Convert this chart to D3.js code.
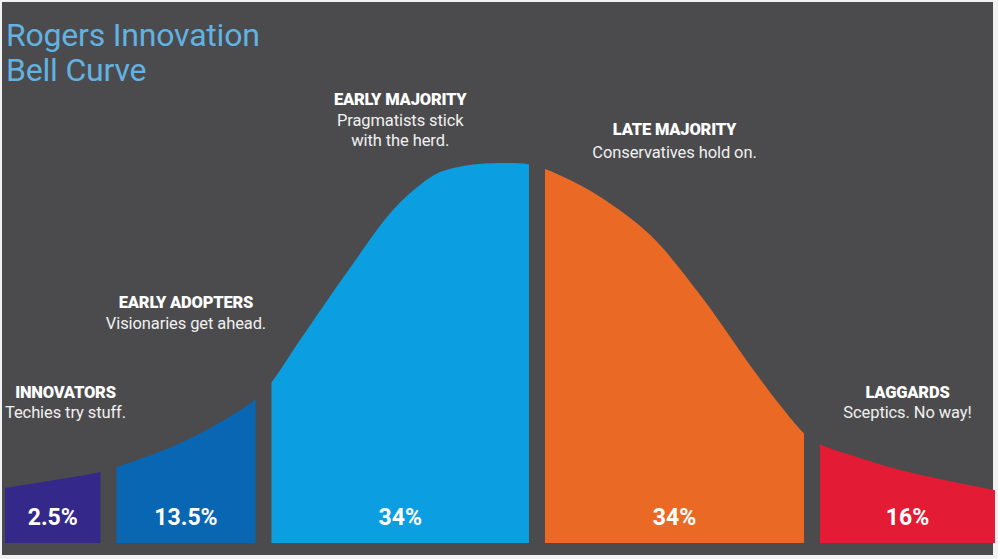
<!DOCTYPE html>
<html>
<head>
<meta charset="utf-8">
<script src="https://cdn.jsdelivr.net/npm/d3@7"></script>
<style>
  html, body { margin: 0; padding: 0; background: #f2f2f2; }
  svg { display: block; }
</style>
</head>
<body>
<svg id="chart" width="998" height="559"></svg>
<script>
// ---------------- DATA ----------------
const titleLines = ["Rogers Innovation", "Bell Curve"];

// Adopter categories
const categories = ["Innovators", "Early Adopters", "Early Majority", "Late Majority", "Laggards"];
const headings = ["INNOVATORS", "EARLY ADOPTERS", "EARLY MAJORITY", "LATE MAJORITY", "LAGGARDS"];
const descriptions = [
  ["Techies try stuff."],
  ["Visionaries get ahead."],
  ["Pragmatists stick", "with the herd."],
  ["Conservatives hold on."],
  ["Sceptics. No way!"]
];
const shares = [2.5, 13.5, 34, 34, 16];           // percent of adopters
const shareLabels = ["2.5%", "13.5%", "34%", "34%", "16%"];

// Category boundaries along the curve (standard-deviation units)
const boundaries = [-2.66, -2.1425, -1.3675, 0, 1.375, 2.29];

// Bell curve outline: position (sd units), relative height (peak = 100)
const curveX = [-2.66, -2.185, -2.10, -1.75, -1.405, -1.33, -1.185, -0.935, -0.72, -0.585, -0.485, -0.335, -0.185, -0.045,
                0.04, 0.165, 0.315, 0.565, 0.815, 1.065, 1.215, 1.335, 1.41, 1.565, 1.815, 2.29];
const curveY = [14.5, 18.7, 20.0, 27.1, 37.9, 42.1, 53.4, 72.4, 87.6, 94.2, 97.6, 99.5, 100, 99.7,
                98.4, 95.5, 91.1, 81.1, 65.3, 46.8, 36.3, 28.9, 26.1, 23.2, 19.2, 13.9];

// ---------------- STYLE / LAYOUT ----------------
const colors = ["#35288b", "#0966b3", "#0b9fe1", "#ea6a25", "#e31b35"];
const W = 998, H = 559;
const bg = { x: 2, y: 2, w: 991, h: 553, fill: "#4b4b4d" };
const plot = { left: 5, right: 995, base: 543, top: 163 };
const gapHalf = 8;
// label baselines (heading, first description line)
const labelY = [[398, 418], [308, 329], [105, 126], [135, 158], [398, 418]];
const descLineH = 20;
const pctY = 525;
const font = "Roboto, 'Open Sans', sans-serif";

const svg = d3.select("#chart");

svg.append("rect")
  .attr("x", bg.x).attr("y", bg.y)
  .attr("width", bg.w).attr("height", bg.h)
  .attr("fill", bg.fill);

const x = d3.scaleLinear().domain([boundaries[0], boundaries[boundaries.length - 1]])
  .range([plot.left, plot.right]);
const y = d3.scaleLinear().domain([0, 100]).range([plot.base, plot.top]);

const pts = curveX.map((v, i) => [v, curveY[i]]);
const area = d3.area()
  .x(d => x(d[0]))
  .y0(plot.base)
  .y1(d => y(d[1]))
  .curve(d3.curveCatmullRom.alpha(0.5));

const defs = svg.append("defs");

categories.forEach((c, i) => {
  const x0 = x(boundaries[i]) + (i === 0 ? 0 : gapHalf);
  const x1 = x(boundaries[i + 1]) - (i === categories.length - 1 ? 0 : gapHalf);
  const id = "clip" + i;
  defs.append("clipPath").attr("id", id)
    .append("rect")
    .attr("x", x0).attr("y", 0)
    .attr("width", x1 - x0).attr("height", H);

  svg.append("path")
    .datum(pts)
    .attr("d", area)
    .attr("fill", colors[i])
    .attr("clip-path", `url(#${id})`);

  const cx = (x0 + x1) / 2;

  // percentage
  svg.append("text")
    .attr("x", cx).attr("y", pctY)
    .attr("text-anchor", "middle")
    .attr("font-family", font)
    .attr("font-weight", 700)
    .attr("font-size", 23)
    .attr("fill", "#ffffff")
    .text(shareLabels[i]);

  // heading + description group
  const g = svg.append("g");
  g.append("text")
    .attr("x", cx).attr("y", labelY[i][0])
    .attr("text-anchor", "middle")
    .attr("font-family", font)
    .attr("font-weight", 900)
    .attr("font-size", 16.5)
    .attr("letter-spacing", -0.2)
    .attr("fill", "#ffffff")
    .text(headings[i]);
  descriptions[i].forEach((line, k) => {
    g.append("text")
      .attr("x", cx).attr("y", labelY[i][1] + k * descLineH)
      .attr("text-anchor", "middle")
      .attr("font-family", font)
      .attr("font-size", 16.5)
      .attr("letter-spacing", -0.1)
      .attr("fill", "#f0f0f0")
      .text(line);
  });
  // keep labels inside the frame
  const bb = g.node().getBBox();
  if (bb.x < plot.left) g.attr("transform", `translate(${plot.left - bb.x},0)`);
});

// title
const title = svg.append("text")
  .attr("x", 6).attr("y", 46)
  .attr("font-family", font)
  .attr("font-size", 32)
  .attr("letter-spacing", -0.2)
  .attr("fill", "#62b2e2");
titleLines.forEach((t, i) => {
  title.append("tspan").attr("x", 6).attr("dy", i === 0 ? 0 : 35).text(t);
});
</script>
</body>
</html>
